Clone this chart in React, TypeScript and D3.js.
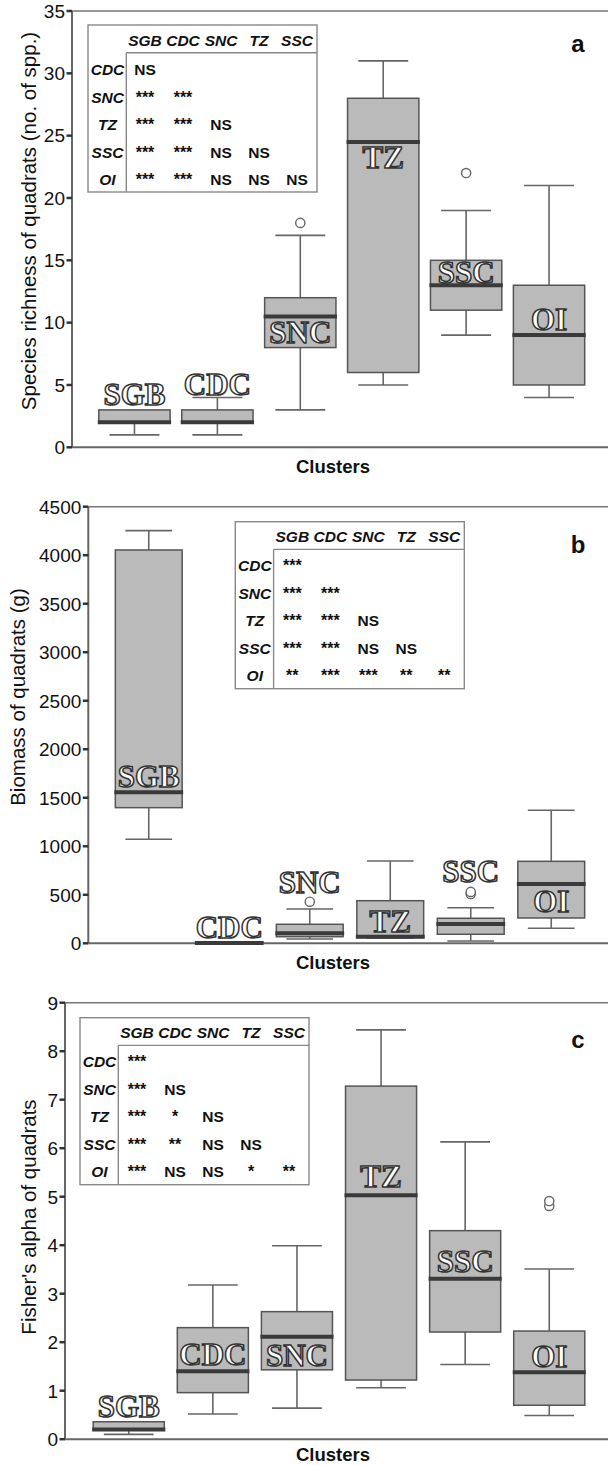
import React from "react";
import * as d3 from "d3";

const clusters = ["SGB", "CDC", "SNC", "TZ", "SSC", "OI"];

// Box summaries per cluster: [lower whisker, Q1, median, Q3, upper whisker]
const richnessStats = [
  [1, 2, 2, 3, 3],
  [1, 2, 2, 3, 4],
  [3, 8, 10.5, 12, 17],
  [5, 6, 24.5, 28, 31],
  [9, 11, 13, 15, 19],
  [4, 5, 9, 13, 21],
];
const richnessOutliers = [[], [], [18], [], [22], []];
const richnessLabelY = [3.4, 4.2, 8.4, 22.4, 13.2, 9.4];
const richnessTicks = [0, 5, 10, 15, 20, 25, 30, 35];
const richnessSig = [
  ["NS"],
  ["***", "***"],
  ["***", "***", "NS"],
  ["***", "***", "NS", "NS"],
  ["***", "***", "NS", "NS", "NS"],
];

const biomassStats = [
  [1072, 1398, 1556, 4054, 4253],
  [0, 0, 2, 6, 10],
  [44, 68, 103, 196, 354],
  [55, 60, 68, 439, 848],
  [24, 93, 199, 258, 367],
  [155, 261, 611, 845, 1371],
];
const biomassOutliers = [[], [], [429], [], [508, 530], []];
const biomassLabelY = [1616, 55, 522, 120, 629, 326];
const biomassTicks = [0, 500, 1000, 1500, 2000, 2500, 3000, 3500, 4000, 4500];
const biomassSig = [
  ["***"],
  ["***", "***"],
  ["***", "***", "NS"],
  ["***", "***", "NS", "NS"],
  ["**", "***", "***", "**", "**"],
];

const alphaStats = [
  [0.1, 0.19, 0.2, 0.36, 0.36],
  [0.52, 0.96, 1.4, 2.3, 3.18],
  [0.64, 1.43, 2.11, 2.63, 3.99],
  [1.06, 1.22, 5.03, 7.28, 8.44],
  [1.54, 2.21, 3.31, 4.3, 6.13],
  [0.49, 0.7, 1.38, 2.23, 3.51],
];
const alphaOutliers = [[], [], [], [], [], [4.81, 4.91]];
const alphaLabelY = [0.46, 1.52, 1.51, 5.2, 3.45, 1.49];
const alphaTicks = [0, 1, 2, 3, 4, 5, 6, 7, 8, 9];
const alphaSig = [
  ["***"],
  ["***", "NS"],
  ["***", "*", "NS"],
  ["***", "**", "NS", "NS"],
  ["***", "NS", "NS", "*", "**"],
];

const SANS = "'Liberation Sans', Arial, Helvetica, sans-serif";
const SERIF = "'Liberation Serif', 'Times New Roman', serif";
const W = 608;

const panels = [
  {
    letter: "a",
    stats: richnessStats,
    outliers: richnessOutliers,
    labelY: richnessLabelY,
    ticks: richnessTicks,
    sig: richnessSig,
    domain: [0, 35],
    axisX: 72,
    top: 11,
    bottom: 447.3,
    band: [93, 590.5],
    pad: 0.14,
    tableX: 88,
    tableY: 25,
    yTitle: "Species richness of quadrats (no. of spp.)",
    titleX: 29,
    titleY: 221,
    letterY: 51.7,
    clustersY: 472.5,
  },
  {
    letter: "b",
    stats: biomassStats,
    outliers: biomassOutliers,
    labelY: biomassLabelY,
    ticks: biomassTicks,
    sig: biomassSig,
    domain: [0, 4500],
    axisX: 88.3,
    top: 506.7,
    bottom: 943.3,
    band: [108.5, 591.5],
    pad: 0.17,
    tableX: 235.3,
    tableY: 521.7,
    yTitle: "Biomass of quadrats (g)",
    titleX: 18,
    titleY: 697,
    letterY: 553,
    clustersY: 969,
  },
  {
    letter: "c",
    stats: alphaStats,
    outliers: alphaOutliers,
    labelY: alphaLabelY,
    ticks: alphaTicks,
    sig: alphaSig,
    domain: [0, 9],
    axisX: 65,
    top: 1002.7,
    bottom: 1439.2,
    band: [86.7, 591.3],
    pad: 0.155,
    tableX: 80,
    tableY: 1017.7,
    yTitle: "Fisher's alpha of quadrats",
    titleX: 29,
    titleY: 1217,
    letterY: 1048,
    clustersY: 1460.5,
  },
];

const colX = [57, 95, 133, 171, 209];
const rowY = [44, 72, 99, 127, 154];

function SigTable({ x, y, sig }) {
  const w = 229;
  const h = 167;
  const split = 38.3;
  const headY = 27.7;
  return (
    <g transform={`translate(${x},${y})`} fontFamily={SANS}>
      <rect x={0} y={0} width={w} height={h} fill="#fff" stroke="#888" strokeWidth={1.4} />
      <line x1={split} x2={split} y1={headY} y2={h} stroke="#888" strokeWidth={1.4} />
      <line x1={split} x2={w} y1={headY} y2={headY} stroke="#888" strokeWidth={1.4} />
      {clusters.slice(0, 5).map((c, i) => (
        <text key={c} x={colX[i]} y={15} dy="0.36em" textAnchor="middle" fontSize={15.5} fontWeight="bold" fontStyle="italic" fill="#111">
          {c}
        </text>
      ))}
      {clusters.slice(1).map((c, j) => (
        <g key={c}>
          <text x={19.5} y={rowY[j]} dy="0.36em" textAnchor="middle" fontSize={15.5} fontWeight="bold" fontStyle="italic" fill="#111">
            {c}
          </text>
          {sig[j].map((s, i) => (
            <text key={i} x={colX[i]} y={rowY[j]} dy="0.36em" textAnchor="middle" fontSize={s === "NS" ? 15.5 : 16} fontWeight="bold" fill="#111">
              {s}
            </text>
          ))}
        </g>
      ))}
    </g>
  );
}

function Panel({ cfg }) {
  const y = d3.scaleLinear().domain(cfg.domain).range([cfg.bottom, cfg.top]);
  const x = d3
    .scaleBand()
    .domain(clusters)
    .range(cfg.band)
    .paddingInner(cfg.pad)
    .paddingOuter(cfg.pad / 2);
  const bw = x.bandwidth();
  const cap = bw * 0.35;
  const axisColor = "#666";

  return (
    <g>
      {/* frame: top border, y axis and x axis */}
      <line x1={cfg.axisX} x2={W} y1={cfg.top} y2={cfg.top} stroke="#777" strokeWidth={1.5} />
      <line x1={cfg.axisX} x2={W} y1={cfg.bottom} y2={cfg.bottom} stroke={axisColor} strokeWidth={2} />
      <line x1={cfg.axisX} x2={cfg.axisX} y1={cfg.top} y2={cfg.bottom} stroke={axisColor} strokeWidth={2} />

      {cfg.ticks.map((t) => (
        <g key={t}>
          <line x1={cfg.axisX - 5.5} x2={cfg.axisX} y1={y(t)} y2={y(t)} stroke="#333" strokeWidth={2.5} />
          <text x={cfg.axisX - 7} y={y(t)} dy="0.36em" textAnchor="end" fontFamily={SANS} fontSize={19} fill="#111">
            {t}
          </text>
        </g>
      ))}

      <text
        transform={`translate(${cfg.titleX},${cfg.titleY}) rotate(-90)`}
        dy="0.36em"
        textAnchor="middle"
        fontFamily={SANS}
        fontSize={20.5}
        fill="#111"
      >
        {cfg.yTitle}
      </text>

      <text x={333} y={cfg.clustersY} textAnchor="middle" fontFamily={SANS} fontSize={18.5} fontWeight="bold" fill="#111">
        Clusters
      </text>

      <text x={578} y={cfg.letterY} textAnchor="middle" fontFamily={SANS} fontSize={24} fontWeight="bold" fill="#111">
        {cfg.letter}
      </text>

      <SigTable x={cfg.tableX} y={cfg.tableY} sig={cfg.sig} />

      {clusters.map((c, i) => {
        const [lo, q1, med, q3, hi] = cfg.stats[i];
        const x0 = x(c);
        const cx = x0 + bw / 2;
        return (
          <g key={c}>
            {hi > q3 && (
              <g stroke="#666" strokeWidth={1.6}>
                <line x1={cx} x2={cx} y1={y(q3)} y2={y(hi)} />
                <line x1={cx - cap} x2={cx + cap} y1={y(hi)} y2={y(hi)} />
              </g>
            )}
            {lo < q1 && (
              <g stroke="#666" strokeWidth={1.6}>
                <line x1={cx} x2={cx} y1={y(q1)} y2={y(lo)} />
                <line x1={cx - cap} x2={cx + cap} y1={y(lo)} y2={y(lo)} />
              </g>
            )}
            <rect
              x={x0}
              y={y(q3)}
              width={bw}
              height={Math.max(0, y(q1) - y(q3))}
              fill="#bababa"
              stroke="#555"
              strokeWidth={1.5}
            />
            <line x1={x0 - 1} x2={x0 + bw + 1} y1={y(med)} y2={y(med)} stroke="#3a3a3a" strokeWidth={4} />
            {cfg.outliers[i].map((o, k) => (
              <circle key={k} cx={cx} cy={y(o)} r={4.6} fill="#fff" stroke="#666" strokeWidth={1.4} />
            ))}
            <text
              x={cx}
              y={y(cfg.labelY[i])}
              textAnchor="middle"
              fontFamily={SERIF}
              fontSize={31}
              fontWeight="bold"
              fill="#fff"
              stroke="#333"
              strokeWidth={1.5}
            >
              {c}
            </text>
          </g>
        );
      })}
    </g>
  );
}

export default function App() {
  return (
    <svg
      width={W}
      height={1465}
      viewBox={`0 0 ${W} 1465`}
      style={{ position: "absolute", left: 0, top: 0, background: "#fff" }}
    >
      <rect width={W} height={1465} fill="#fff" />
      {panels.map((p) => (
        <Panel key={p.letter} cfg={p} />
      ))}
    </svg>
  );
}
